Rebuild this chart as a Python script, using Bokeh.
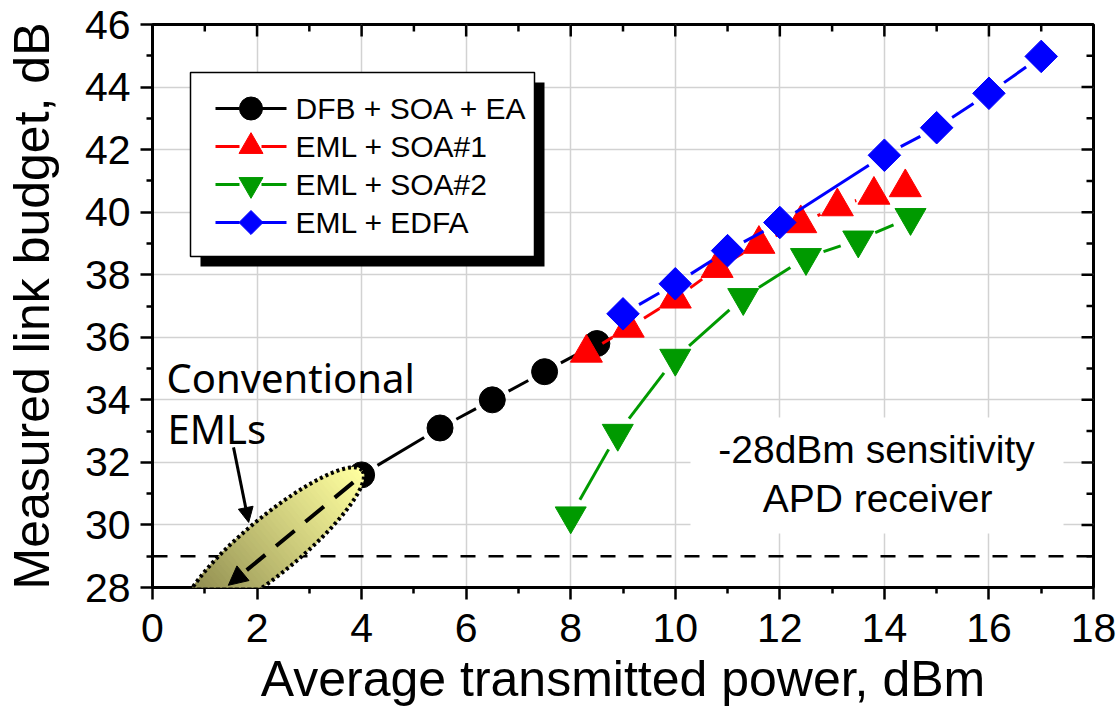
import math
import numpy as np
from bokeh.plotting import figure
from bokeh.models import (Range1d, FixedTicker, Span, PolyAnnotation, Arrow,
                          NormalHead, ColumnDataSource, GlobalInlineStyleSheet)
from bokeh.core.properties import value
from bokeh.embed import file_html
from bokeh.resources import INLINE

# ---------------- data ----------------
dfb_x = [4.0, 5.5, 6.5, 7.5, 8.5]
dfb_y = [31.6, 33.1, 34.0, 34.9, 35.8]
soa1_x = [8.3, 9.1, 10.0, 10.8, 11.6, 12.4, 13.1, 13.8, 14.4]
soa1_y = [35.5, 36.3, 37.23, 38.21, 38.98, 39.64, 40.18, 40.55, 40.79]
soa2_x = [8.0, 8.9, 10.0, 11.3, 12.5, 13.5, 14.5]
soa2_y = [30.29, 32.93, 35.33, 37.27, 38.55, 39.11, 39.83]
edfa_x = [9.0, 10.0, 11.0, 12.0, 14.0, 15.0, 16.0, 17.0]
edfa_y = [36.75, 37.71, 38.77, 39.67, 41.82, 42.7, 43.8, 44.98]
series_labels = ["DFB + SOA + EA", "EML + SOA#1", "EML + SOA#2", "EML + EDFA"]
sensitivity_limit = 29.0
x_ticks = [0, 2, 4, 6, 8, 10, 12, 14, 16, 18]
y_ticks = [28, 30, 32, 34, 36, 38, 40, 42, 44, 46]
x_minor = [1, 3, 5, 7, 9, 11, 13, 15, 17]
y_minor = [29, 31, 33, 35, 37, 39, 41, 43, 45]
x_title = "Average transmitted power, dBm"
y_title = "Measured link budget, dB"

# ---------------- layout ----------------
X_START, X_END = 0, 18
Y_START, Y_END = 28, 46
FRAME_L, FRAME_T = 152, 24
FRAME_W, FRAME_H = 941, 563
SX = FRAME_W / (X_END - X_START)
SY = FRAME_H / (Y_END - Y_START)
FONT = "Liberation Sans"
TXT_SHIFT = 0.37  # em offset between requested and drawn alphabetic baseline

p = figure(frame_width=FRAME_W, frame_height=FRAME_H,
           x_range=Range1d(X_START, X_END), y_range=Range1d(Y_START, Y_END),
           output_backend="svg", toolbar_location=None,
           min_border_left=FRAME_L, min_border_right=24, min_border_top=FRAME_T,
           min_border_bottom=134)
p.stylesheets = [GlobalInlineStyleSheet(css="html, body { overflow: hidden !important; }")]
p.outline_line_color = "black"
p.outline_line_width = 3
p.background_fill_color = "white"
p.border_fill_color = "white"

xt = FixedTicker(ticks=x_ticks, minor_ticks=x_minor)
yt = FixedTicker(ticks=y_ticks, minor_ticks=y_minor)
p.xaxis.ticker = xt
p.yaxis.ticker = yt
p.xgrid.ticker = xt
p.ygrid.ticker = yt
p.grid.grid_line_color = "#d2d2d2"
p.grid.grid_line_width = 1.5

for ax in (p.xaxis[0], p.yaxis[0]):
    ax.axis_line_width = 3
    ax.axis_line_color = "black"
    ax.major_tick_line_width = 2.5
    ax.minor_tick_line_width = 2.5
    ax.major_tick_line_color = "black"
    ax.minor_tick_line_color = "black"
    ax.major_tick_in, ax.major_tick_out = 0, 12
    ax.minor_tick_in, ax.minor_tick_out = 0, 6
    ax.major_label_text_font = FONT
    ax.major_label_text_font_size = "41px"
    ax.major_label_text_color = "black"
    ax.axis_label_text_font = FONT
    ax.axis_label_text_font_size = "50px"
    ax.axis_label_text_font_style = "normal"
    ax.axis_label_text_color = "black"

p.xaxis[0].axis_label = x_title
p.yaxis[0].axis_label = y_title
p.xaxis[0].major_label_standoff = 14
p.xaxis[0].axis_label_standoff = 6
p.yaxis[0].major_label_standoff = 10
p.yaxis[0].axis_label_standoff = 22

# inward ticks on the top and right edges of the frame
MAJ_IN, MIN_IN = 12, 7
p.segment(x0=x_ticks, x1=x_ticks, y0=[Y_END] * len(x_ticks),
          y1=[Y_END - MAJ_IN / SY] * len(x_ticks), line_color="black", line_width=2.5)
p.segment(x0=x_minor, x1=x_minor, y0=[Y_END] * len(x_minor),
          y1=[Y_END - MIN_IN / SY] * len(x_minor), line_color="black", line_width=2.5)
p.segment(y0=y_ticks, y1=y_ticks, x0=[X_END] * len(y_ticks),
          x1=[X_END - MAJ_IN / SX] * len(y_ticks), line_color="black", line_width=2.5)
p.segment(y0=y_minor, y1=y_minor, x0=[X_END] * len(y_minor),
          x1=[X_END - MIN_IN / SX] * len(y_minor), line_color="black", line_width=2.5)


def dx(px):
    return X_START + (px - FRAME_L) / SX


def dy(py):
    return Y_END - (py - FRAME_T) / SY


def base_y(py_baseline, fs):
    # data y that puts the drawn alphabetic baseline at the given pixel row
    return dy(py_baseline - TXT_SHIFT * fs)


# decorative boxes (legend shadow + white legend box, white text box)
p.quad(left=[dx(200)], right=[dx(544)], top=[dy(82)], bottom=[dy(266)],
       fill_color="black", line_color=None)
p.quad(left=[dx(190)], right=[dx(534)], top=[dy(72)], bottom=[dy(256)],
       fill_color="white", line_color="black", line_width=1.5)
p.quad(left=[dx(690)], right=[dx(1063)], top=[dy(417)], bottom=[dy(533)],
       fill_color="white", line_color=None)


def gapped(xs, ys, gap=18.5):
    x0, y0, x1, y1 = [], [], [], []
    for i in range(len(xs) - 1):
        ddx = (xs[i + 1] - xs[i]) * SX
        ddy = (ys[i + 1] - ys[i]) * SY
        L = math.hypot(ddx, ddy)
        if L <= 2 * gap:
            continue
        f = gap / L
        x0.append(xs[i] + (xs[i + 1] - xs[i]) * f)
        y0.append(ys[i] + (ys[i + 1] - ys[i]) * f)
        x1.append(xs[i + 1] - (xs[i + 1] - xs[i]) * f)
        y1.append(ys[i + 1] - (ys[i + 1] - ys[i]) * f)
    return ColumnDataSource(dict(x0=x0, y0=y0, x1=x1, y1=y1))


# ---------------- series ----------------
specs = [
    (dfb_x, dfb_y, "black", "circle", 26, 0.0, 23),
    (soa1_x, soa1_y, "#ff0000", "triangle", 32, 0.0, 24),
    (soa2_x, soa2_y, "#009a00", "inverted_triangle", 31, 0.0, 24),
    (edfa_x, edfa_y, "#0000ff", "square", 23, math.pi / 4, 17),
]
LEG_ROWS = [108, 146, 184, 222]
LEG_FS = 30
for (xs, ys, col, mk, sz, ang, lsz), lab, row in zip(specs, series_labels, LEG_ROWS):
    p.segment(x0="x0", y0="y0", x1="x1", y1="y1", source=gapped(xs, ys),
              line_color=col, line_width=3)
    p.scatter(xs, ys, marker=mk, size=sz, angle=ang, fill_color=col, line_color=col)
    # legend entry
    ly = dy(row)
    p.segment(x0=[dx(215), dx(261)], y0=[ly, ly], x1=[dx(239), dx(286)], y1=[ly, ly],
              line_color=col, line_width=3)
    p.scatter([dx(250.5)], [ly], marker=mk, size=lsz, angle=ang,
              fill_color=col, line_color=col)
    p.text(x=[dx(295)], y=[base_y(row + 10.6, LEG_FS)], text=[lab], text_font=value(FONT),
           text_font_size=f"{LEG_FS}px", text_align="left", text_baseline="alphabetic",
           text_color="black")

# sensitivity line
p.add_layout(Span(location=sensitivity_limit, dimension="width", line_color="black",
                  line_width=2.5, line_dash="15 13"))

# ---------------- conventional EML ellipse ----------------
E_CX, E_CY = 2.3, 29.38
E_A, E_B = 116.0, 28.0
E_ANG = math.radians(39.6)
ca, sa = math.cos(E_ANG), math.sin(E_ANG)


def ell_pt(u, v):
    px = u * ca - v * sa
    py = u * sa + v * ca
    return E_CX + px / SX, E_CY + py / SY


c0 = np.array([122, 119, 64])
c1 = np.array([255, 255, 160])
N = 48
for i in range(N):
    u0 = -E_A + 2 * E_A * i / N
    u1 = min(E_A, -E_A + 2 * E_A * (i + 1) / N + 0.8)
    us = np.linspace(u0, u1, 6)
    pts = [ell_pt(u, E_B * math.sqrt(max(0.0, 1 - (u / E_A) ** 2))) for u in us]
    pts += [ell_pt(u, -E_B * math.sqrt(max(0.0, 1 - (u / E_A) ** 2))) for u in us[::-1]]
    t = ((i + 0.5) / N) ** 0.85
    colr = tuple(int(round(v)) for v in c0 + (c1 - c0) * t)
    hexc = "#%02x%02x%02x" % colr
    p.add_layout(PolyAnnotation(xs=[q[0] for q in pts], ys=[q[1] for q in pts],
                                fill_color=hexc, fill_alpha=1.0, line_color=hexc,
                                line_width=1, line_alpha=1.0))
th = np.linspace(0, 2 * math.pi, 160)
outline = [ell_pt(E_A * math.cos(a), E_B * math.sin(a)) for a in th]
p.add_layout(PolyAnnotation(xs=[q[0] for q in outline], ys=[q[1] for q in outline],
                            fill_alpha=0, line_color="black", line_alpha=1.0,
                            line_width=4, line_dash="3 3"))

p.add_layout(Arrow(end=NormalHead(size=19, fill_color="black", line_color="black",
                                  line_width=1),
                   x_start=3.84, y_start=31.36, x_end=1.45, y_end=28.07,
                   line_color="black", line_width=4, line_dash="24 14"))
p.add_layout(Arrow(end=NormalHead(size=15, fill_color="black", line_color="black",
                                  line_width=1),
                   x_start=1.55, y_start=32.48, x_end=1.84, y_end=30.08,
                   line_color="black", line_width=3))

# ---------------- texts ----------------
p.text(x=[dx(166), dx(167)], y=[base_y(392, 40), base_y(443, 40)],
       text=["Conventional", "EMLs"],
       text_font=value("Noto Sans"), text_font_size="40px", text_align="left",
       text_baseline="alphabetic", text_color="black")
p.text(x=[dx(876), dx(877)], y=[base_y(463, 39), base_y(512, 39)],
       text=["-28dBm sensitivity", "APD receiver"],
       text_font=value(FONT), text_font_size="39px", text_align="center",
       text_baseline="alphabetic", text_color="black")

open("out.html", "w").write(file_html(p, INLINE))
